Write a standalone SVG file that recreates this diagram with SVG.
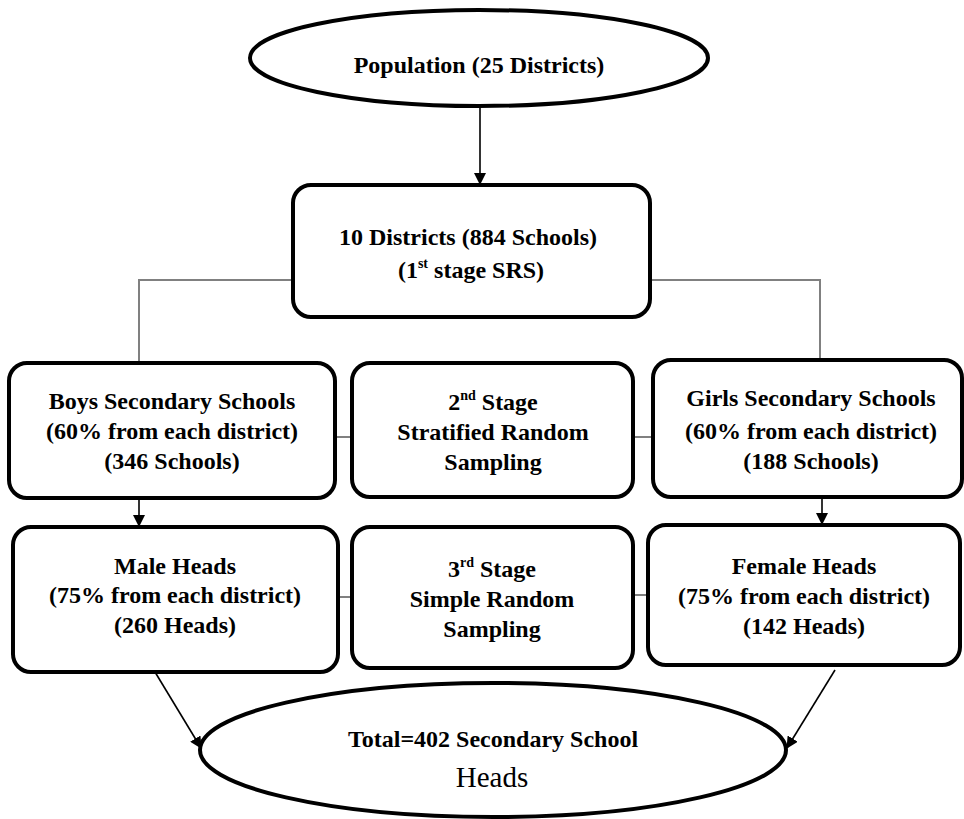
<svg xmlns="http://www.w3.org/2000/svg" width="964" height="819" viewBox="0 0 964 819">
<style>
.box{fill:#fff;stroke:#000;stroke-width:4}
.t{font-family:"Liberation Serif","Times New Roman",serif;font-weight:bold;font-size:24px;text-anchor:middle;fill:#000}
.r{font-family:"Liberation Serif","Times New Roman",serif;font-size:29px;text-anchor:middle;fill:#000}
.sup{font-size:14px}
.g{fill:none;stroke:#808080;stroke-width:2}
.a{fill:none;stroke:#000;stroke-width:1.6}
</style>
<defs>
<marker id="ah" markerWidth="12" markerHeight="12" refX="11" refY="6" orient="auto" markerUnits="userSpaceOnUse">
<path d="M0,0 L12,6 L0,12 Z" fill="#000"/>
</marker>
</defs>
<rect width="964" height="819" fill="#fff"/>
<g id="connectors">
<line class="a" x1="480" y1="107" x2="480" y2="184" marker-end="url(#ah)"/>
<polyline class="g" points="293,280 139,280 139,363"/>
<polyline class="g" points="650,280 820,280 820,360"/>
<line class="g" x1="335" y1="437" x2="352" y2="437"/>
<line class="g" x1="633" y1="437" x2="653" y2="437"/>
<line class="a" x1="139" y1="498" x2="139" y2="526" marker-end="url(#ah)"/>
<line class="a" x1="822" y1="497" x2="822" y2="524" marker-end="url(#ah)"/>
<line class="g" x1="338" y1="597" x2="352" y2="597"/>
<line class="g" x1="633" y1="595" x2="648" y2="595"/>
<line class="a" x1="155" y1="672" x2="201" y2="748" marker-end="url(#ah)"/>
<line class="a" x1="835" y1="670" x2="787" y2="748" marker-end="url(#ah)"/>
</g>
<g id="population">
<ellipse class="box" cx="479" cy="58" rx="229" ry="48"/>
<text class="t" x="479" y="73">Population (25 Districts)</text>
</g>
<g id="districts">
<rect class="box" x="293" y="185" width="357" height="132" rx="18"/>
<text class="t" x="468" y="245">10 Districts (884 Schools)</text>
<text class="t" x="471" y="278">(1<tspan class="sup" dy="-10">st</tspan><tspan dy="10"> stage SRS)</tspan></text>
</g>
<g id="boys">
<rect class="box" x="9" y="363" width="326" height="135" rx="18"/>
<text class="t" x="172" y="409">Boys Secondary Schools</text>
<text class="t" x="172" y="439">(60% from each district)</text>
<text class="t" x="172" y="469">(346 Schools)</text>
</g>
<g id="stage2">
<rect class="box" x="352" y="363" width="281" height="134" rx="18"/>
<text class="t" x="493" y="410">2<tspan class="sup" dy="-10">nd</tspan><tspan dy="10"> Stage</tspan></text>
<text class="t" x="493" y="440">Stratified Random</text>
<text class="t" x="493" y="470">Sampling</text>
</g>
<g id="girls">
<rect class="box" x="653" y="360" width="309" height="137" rx="18"/>
<text class="t" x="811" y="406">Girls Secondary Schools</text>
<text class="t" x="811" y="439">(60% from each district)</text>
<text class="t" x="811" y="469">(188 Schools)</text>
</g>
<g id="male">
<rect class="box" x="13" y="527" width="325" height="145" rx="18"/>
<text class="t" x="175" y="574">Male Heads</text>
<text class="t" x="175" y="603">(75% from each district)</text>
<text class="t" x="175" y="633">(260 Heads)</text>
</g>
<g id="stage3">
<rect class="box" x="352" y="527" width="281" height="141" rx="18"/>
<text class="t" x="492" y="577">3<tspan class="sup" dy="-10">rd</tspan><tspan dy="10"> Stage</tspan></text>
<text class="t" x="492" y="607">Simple Random</text>
<text class="t" x="492" y="637">Sampling</text>
</g>
<g id="female">
<rect class="box" x="648" y="525" width="312" height="140" rx="18"/>
<text class="t" x="804" y="574">Female Heads</text>
<text class="t" x="804" y="604">(75% from each district)</text>
<text class="t" x="804" y="634">(142 Heads)</text>
</g>
<g id="total">
<ellipse class="box" cx="493" cy="750" rx="293" ry="67"/>
<text class="t" x="493" y="747">Total=402 Secondary School</text>
<text class="r" x="492" y="787">Heads</text>
</g>
</svg>
